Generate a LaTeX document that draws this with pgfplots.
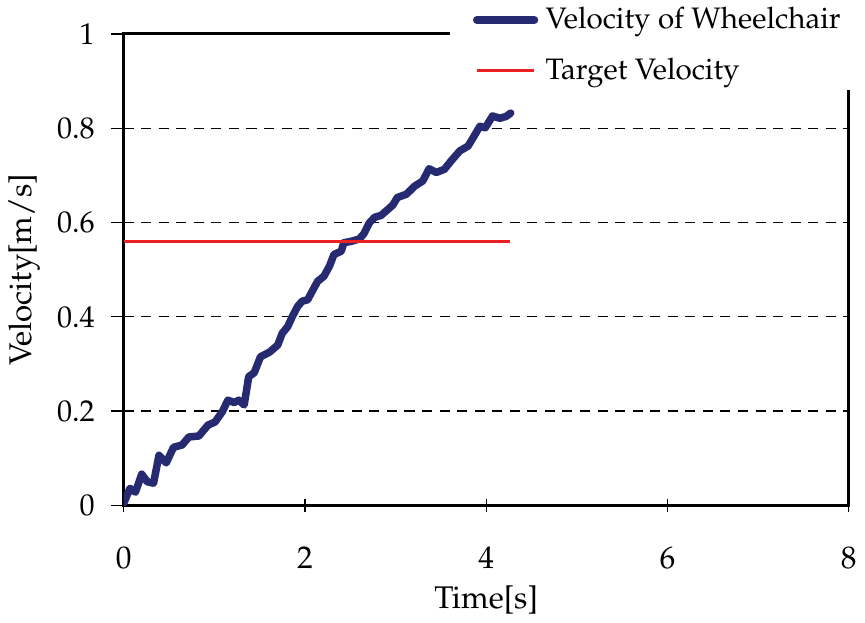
\documentclass[border=0pt]{standalone}
\usepackage[T1]{fontenc}
\usepackage{mathpazo}
\usepackage{pgfplots}
\pgfplotsset{compat=1.18}
\definecolor{wheel}{RGB}{38,42,112}
\definecolor{target}{RGB}{237,32,36}

\begin{document}
\begin{tikzpicture}
  \begin{axis}[
      scale only axis,
      width=289.2pt, height=188pt,
      xmin=0, xmax=8, ymin=0, ymax=1,
      xtick={0,2,4,6,8},
      ytick={0,0.2,0.4,0.6,0.8,1},
      xtick pos=bottom, ytick pos=left,
      tick align=outside,
      major tick length=5pt,
      major x tick style={yshift=2.5pt},
      tick style={black, line width=0.5pt},
      axis line style={black, line width=1.2pt},
      ymajorgrids=true,
      grid style={black, line width=0.5pt, dash pattern=on 4pt off 3pt},
      xlabel={Time[s]},
      ylabel={Velocity[m/s]},
      label style={font=\fontsize{12.5pt}{14pt}\selectfont},
      xticklabel style={font=\fontsize{12.5pt}{14pt}\selectfont, yshift=-8pt},
      yticklabel style={font=\fontsize{12pt}{14pt}\selectfont, xshift=-3pt},
      xlabel style={yshift=0pt},
      ylabel style={yshift=0pt},
      legend cell align=left,
      legend image code/.code={\path (0pt,0pt); \draw[#1] (3pt,0pt) -- (26pt,0pt);},
      legend style={
          at={(rel axis cs:0.45,0.879)}, anchor=south west,
          fill=white, draw=none,
          font=\fontsize{11.8pt}{14pt}\selectfont,
          inner xsep=6pt, inner ysep=1pt,
          row sep=6pt,
          /tikz/every odd column/.append style={column sep=1pt}
        }
    ]

    \addplot[color=wheel, line width=3pt, line join=round, line cap=round]
    coordinates {
        (0.00,0.004) (0.07,0.036) (0.13,0.028) (0.20,0.066) (0.26,0.050)
        (0.33,0.047) (0.39,0.106) (0.47,0.090) (0.55,0.123) (0.645,0.128)
        (0.72,0.145) (0.83,0.147) (0.93,0.170) (1.01,0.177) (1.09,0.199)
        (1.15,0.223) (1.22,0.218) (1.27,0.223) (1.33,0.213) (1.38,0.273)
        (1.44,0.281) (1.51,0.315) (1.61,0.325) (1.70,0.340) (1.75,0.365)
        (1.81,0.379) (1.86,0.400) (1.92,0.422) (1.97,0.433) (2.03,0.436)
        (2.08,0.454) (2.14,0.475) (2.21,0.486) (2.27,0.507) (2.32,0.532)
        (2.40,0.539) (2.43,0.557) (2.51,0.560) (2.60,0.565) (2.65,0.576)
        (2.71,0.599) (2.77,0.611) (2.84,0.615) (2.90,0.625) (2.97,0.637)
        (3.02,0.653) (3.12,0.660) (3.21,0.677) (3.30,0.688) (3.37,0.714)
        (3.45,0.706) (3.54,0.713) (3.61,0.730) (3.71,0.752) (3.80,0.762)
        (3.85,0.778) (3.93,0.804) (3.99,0.801) (4.07,0.826) (4.15,0.821)
        (4.22,0.825) (4.27,0.832)
      };
    \addplot[color=target, line width=1.3pt]
    coordinates {(0,0.56) (4.26,0.56)};
    \legend{Velocity of Wheelchair, Target Velocity}

  \end{axis}
\end{tikzpicture}
\end{document}
